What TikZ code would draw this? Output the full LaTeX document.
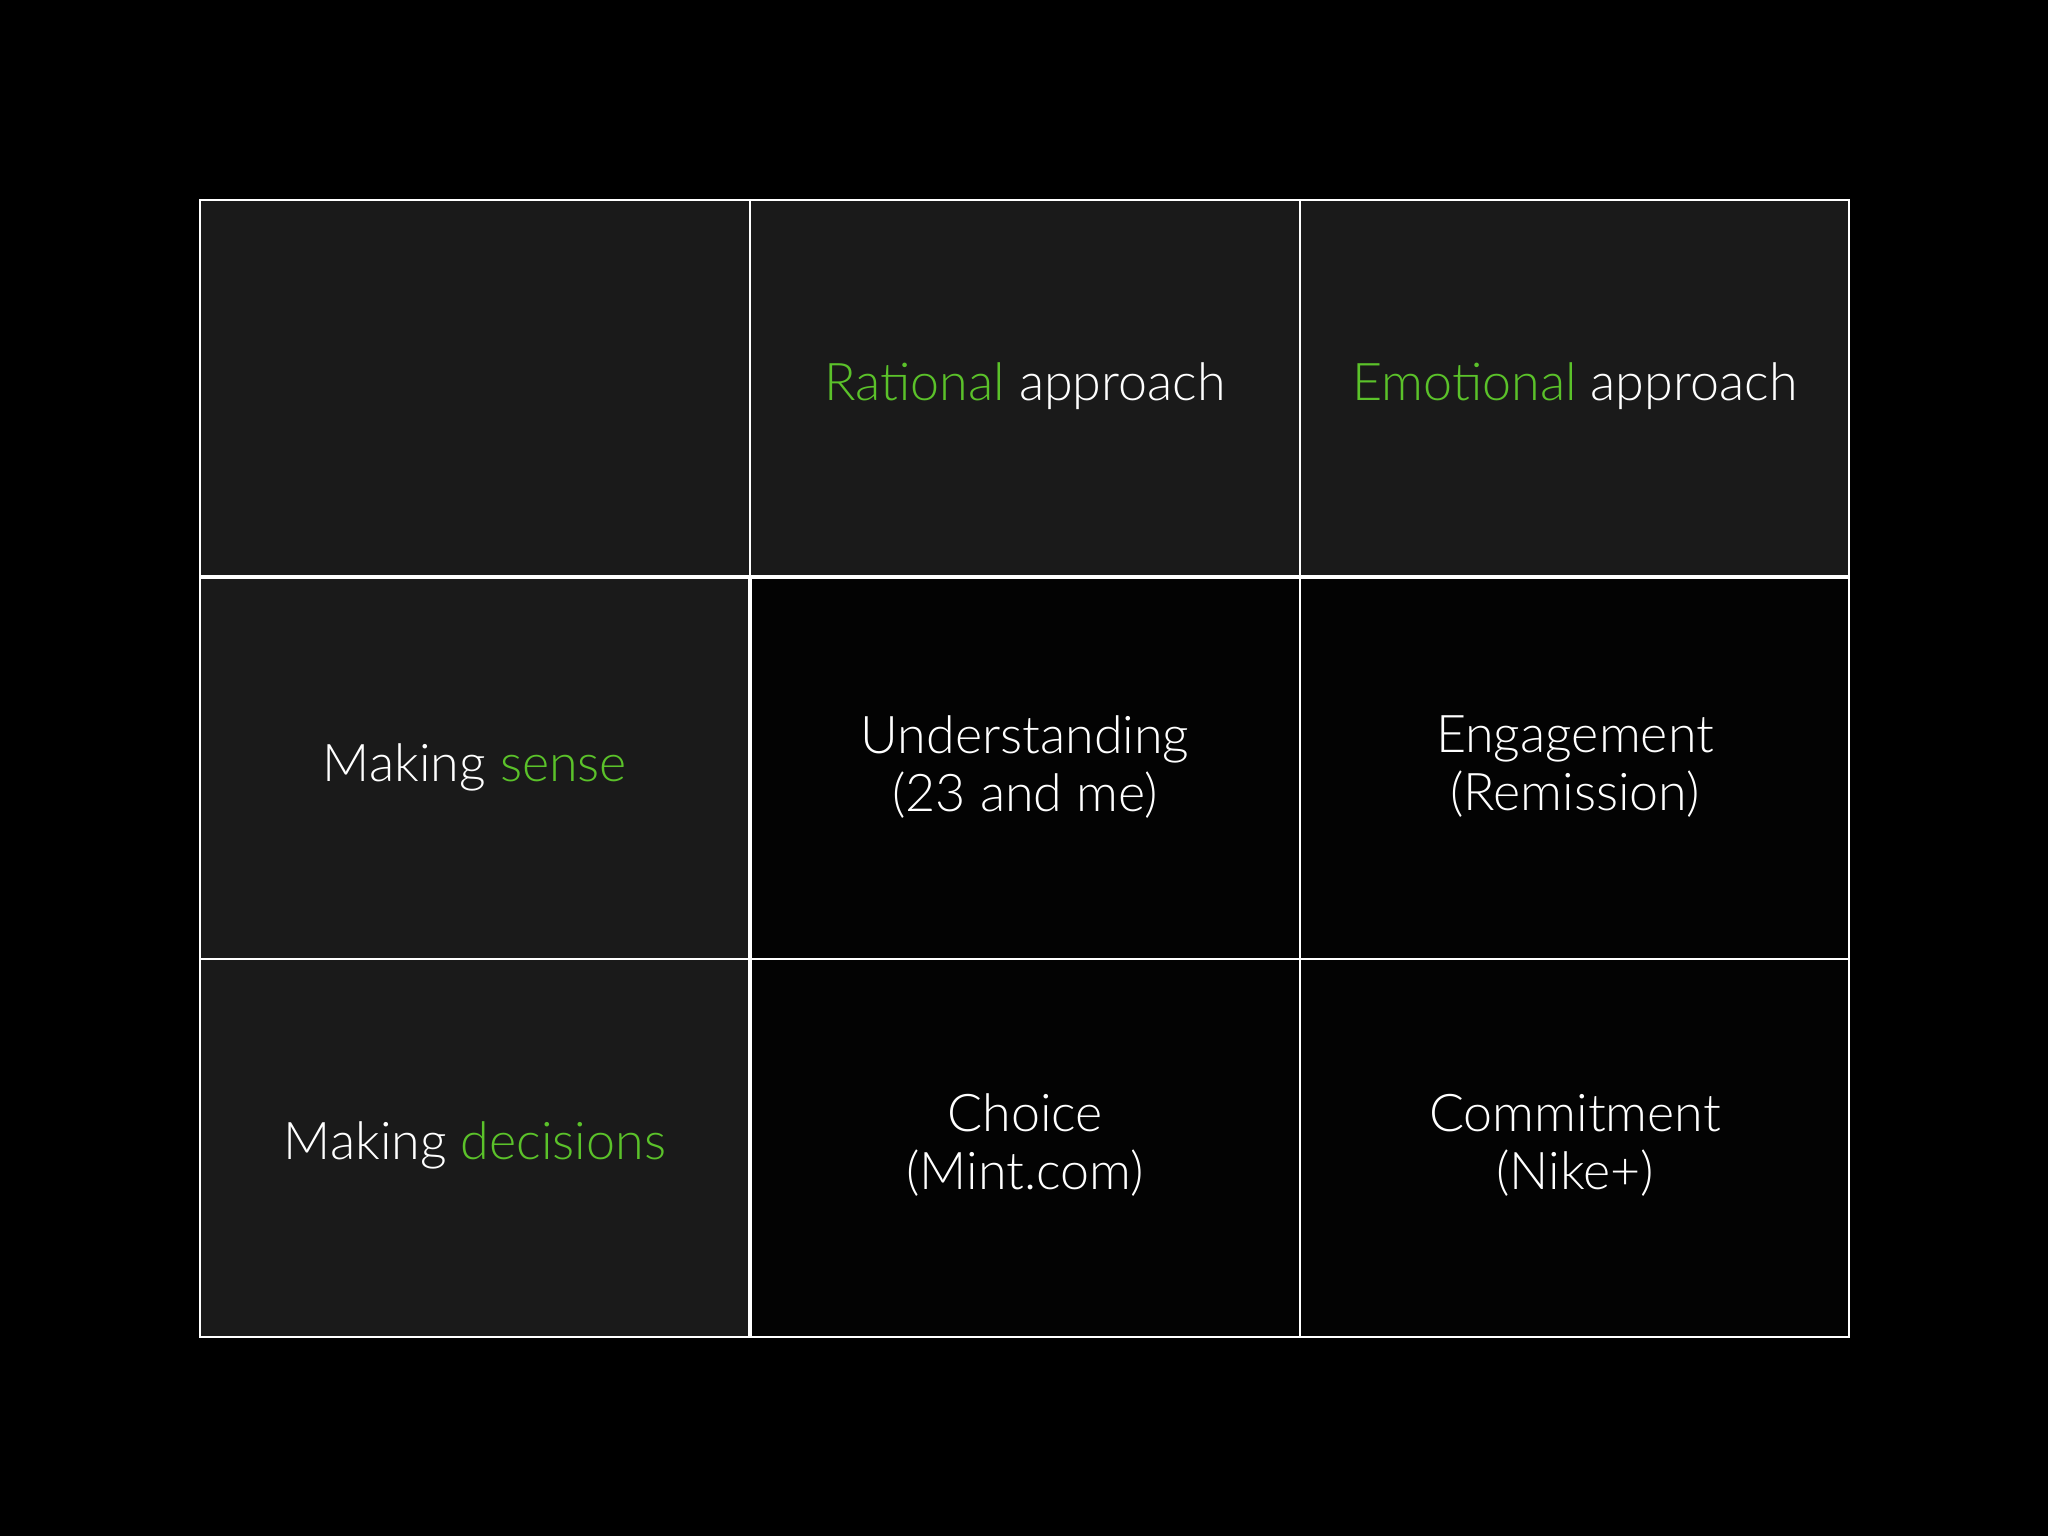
\documentclass[tikz,border=0pt]{standalone}
\usepackage{fontspec}
\setmainfont{Lato Light}
\definecolor{grn}{HTML}{5BC22A}
\definecolor{cellg}{HTML}{1A1A1A}
\definecolor{celld}{HTML}{030303}
\begin{document}
\begin{tikzpicture}[x=1pt,y=-1pt,
  lbl/.style={text=white,font=\fontsize{52}{58}\selectfont,align=center},
  thin/.style={white,line width=1.5pt},
  thick/.style={white,line width=3.5pt}]
\fill[black] (0,0) rectangle (2048,1536);
\useasboundingbox (0,0) rectangle (2048,1536);
\fill[cellg] (200,200) rectangle (1849,577);
\fill[cellg] (200,577) rectangle (750,1337);
\fill[celld] (750,577) rectangle (1849,1337);
\draw[thin] (200,200) rectangle (1849,1337);
\draw[thin] (750,200) -- (750,577);
\draw[thin] (1300,200) -- (1300,1337);
\draw[thin] (200,959) -- (1849,959);
\draw[thick] (200,577) -- (1849,577);
\draw[thick] (750,577) -- (750,1337);
\node[lbl] (h1) at (1025,386) {\textcolor{grn}{Rational} approach};
\node[lbl] (h2) at (1575,386) {\textcolor{grn}{Emotional} approach};
\node[lbl] (r1) at (475,767) {Making \textcolor{grn}{sense}};
\node[lbl] (r2) at (475,1145) {Making \textcolor{grn}{decisions}};
\node[lbl] (c11) at (1025,767) {Understanding\\(23 and me)};
\node[lbl] (c12) at (1575,767) {Engagement\\(Remission)};
\node[lbl] (c21) at (1025,1145) {Choice\\(Mint.com)};
\node[lbl] (c22) at (1575,1145) {Commitment\\(Nike+)};
\end{tikzpicture}
\end{document}
